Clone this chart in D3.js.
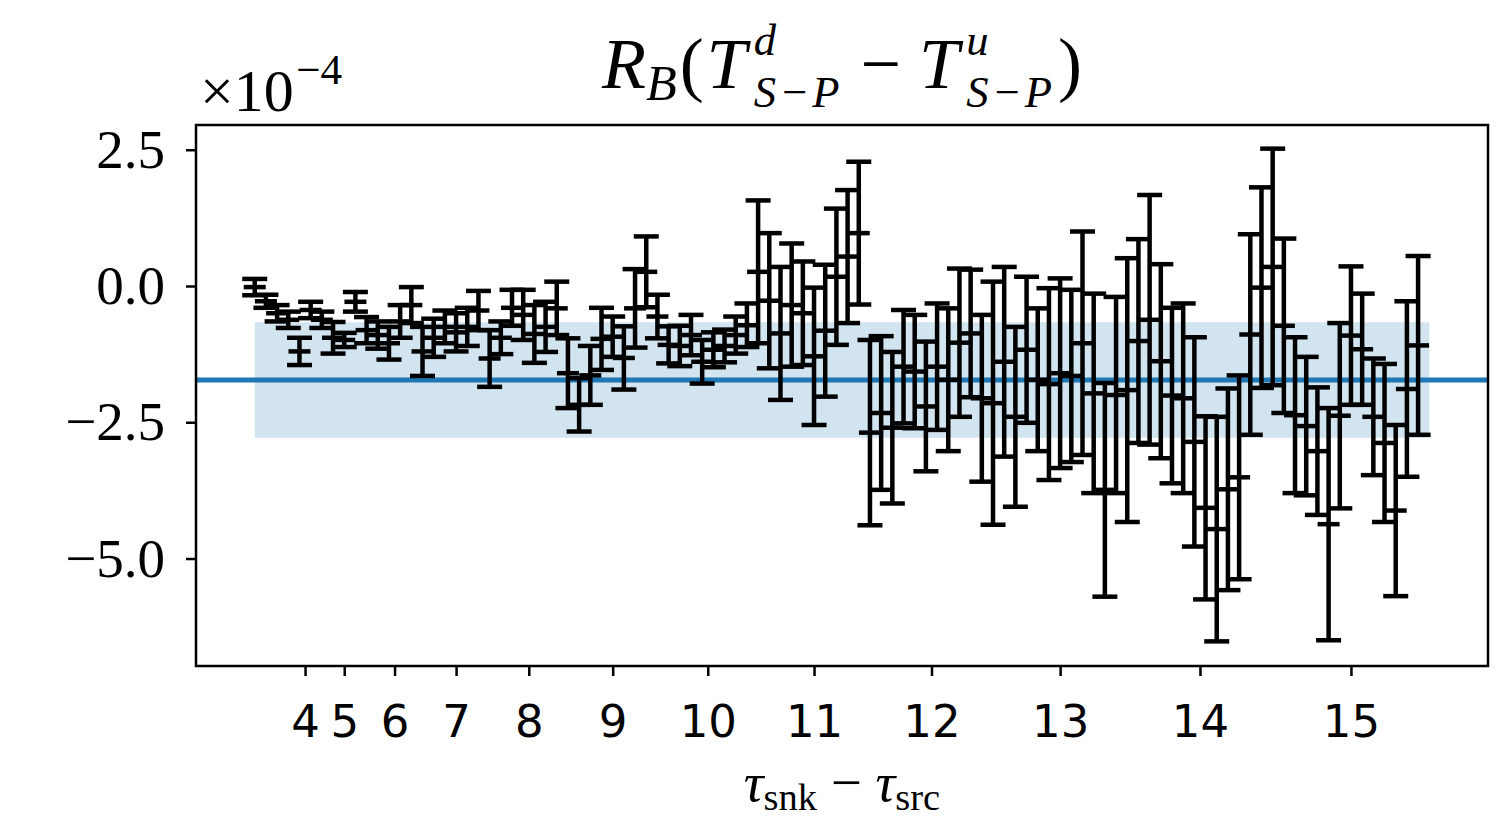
<!DOCTYPE html>
<html>
<head>
<meta charset="utf-8">
<script src="https://cdn.jsdelivr.net/npm/d3@7"></script>
<style>
  body { margin: 0; background: #fff; }
</style>
</head>
<body>
<svg id="ratio_svg"></svg>
<script>

// tau_snk - tau_src values, and how many insertion points each one has
var tauList   = [2, 3, 4, 5, 6, 7, 8, 9, 10, 11, 12, 13, 14, 15];
var groupSize = [1, 2, 3, 4, 5, 6, 7, 8, 9, 10, 11, 12, 13, 14];
var tickTaus  = [4, 5, 6, 7, 8, 9, 10, 11, 12, 13, 14, 15];
var yTicks    = [2.5, 0, -2.5, -5];

var ratio = [-0.02,-0.28,-0.50,-0.62,-1.20,-0.44,-0.62,-0.95,-0.99,-0.29,
  -0.81,-0.90,-1.05,-0.65,-0.35,-1.20,-0.95,-0.75,-0.85,-0.75,
  -0.45,-1.33,-0.95,-0.40,-0.53,-0.88,-0.75,-0.41,-1.60,-2.18,
  -1.64,-0.97,-0.93,-1.32,-0.41,0.26,-0.56,-1.08,-1.10,-0.90,
  -1.39,-1.17,-1.10,-0.90,-0.72,0.26,-0.27,-0.87,-0.35,-0.50,
  -1.29,-0.82,0.17,0.54,0.97,-2.69,-2.33,-2.60,-1.48,-1.57,
  -2.21,-1.48,-1.72,-1.04,-0.87,-2.06,-2.15,-1.39,-2.40,-1.17,
  -1.72,-1.80,-1.60,-1.65,-1.05,-1.97,-3.74,-2.00,-1.91,-1.01,
  -0.62,-1.38,-2.01,-2.06,-2.86,-4.07,-4.46,-3.73,-3.51,-0.89,
  -0.03,0.35,-0.73,-2.37,-2.57,-3.03,-4.37,-2.38,-0.91,-1.16,
  -2.40,-2.88,-4.12,-1.89,-1.09];
var ratioErr = [0.15,0.12,0.15,0.15,0.25,0.15,0.15,0.29,0.13,0.18,
  0.24,0.25,0.30,0.30,0.33,0.45,0.35,0.30,0.35,0.35,
  0.36,0.52,0.30,0.33,0.46,0.53,0.46,0.49,0.64,0.49,
  0.54,0.57,0.37,0.58,0.72,0.65,0.40,0.34,0.37,0.37,
  0.40,0.32,0.30,0.34,0.40,1.31,1.24,1.22,1.13,0.95,
  1.26,1.21,1.25,1.22,1.31,1.70,1.41,1.39,1.04,1.04,
  1.19,1.16,1.31,1.36,1.17,1.53,2.23,1.74,1.65,1.34,
  1.31,1.76,1.74,1.58,2.05,1.83,1.96,1.80,2.42,1.87,
  2.29,1.78,1.61,1.74,1.92,1.68,2.06,1.85,1.87,1.84,
  1.84,2.17,1.60,1.43,1.27,1.17,2.13,1.70,1.27,1.02,
  1.07,1.45,1.57,1.61,1.64];

// constant fit and its error
var fitValue = -1.725;
var fitErr = 1.06;

var svgW = 1512, svgH = 823;
var margin = {top: 125, right: 24, bottom: 157, left: 196},
    width = svgW - margin.left - margin.right,
    height = svgH - margin.top - margin.bottom;

var serif = "'Liberation Serif', 'DejaVu Serif', serif";
var sans = "'DejaVu Sans', sans-serif";

var points = ratio.map(function(v, i) {
  return {i: i, v: v, e: ratioErr[i]};
});

// tick position = start of the tau group + half its size
var groupStart = {};
var acc = 0;
tauList.forEach(function(t, k) {
  groupStart[t] = acc + groupSize[k] / 2;
  acc += groupSize[k];
});
var nPoints = acc;

var scaleX = d3.scaleLinear()
  .domain([-0.05 * nPoints, 1.05 * nPoints])
  .range([0, width]);
var scaleY = d3.scaleLinear()
  .domain([-6.972, 2.954])
  .range([height, 0]);

var svg = d3.select('#ratio_svg')
  .attr('width', svgW)
  .attr('height', svgH);

var plot = svg.append('g')
  .attr('transform', 'translate(' + margin.left + ',' + margin.top + ')');

// fit band
plot.append('rect')
  .attr('x', scaleX(0))
  .attr('width', scaleX(nPoints) - scaleX(0))
  .attr('y', scaleY(fitValue + fitErr))
  .attr('height', scaleY(fitValue - fitErr) - scaleY(fitValue + fitErr))
  .attr('fill', '#1f77b4')
  .attr('fill-opacity', 0.2);

plot.append('line')
  .attr('x1', 0)
  .attr('x2', width)
  .attr('y1', scaleY(fitValue))
  .attr('y2', scaleY(fitValue))
  .style('stroke', '#1f77b4')
  .style('stroke-width', 5);

// error bars: vertical line, two caps and a flat marker in the middle
var capW = 12.5, markW = 11;
var bars = plot.selectAll('.bar')
  .data(points)
  .enter().append('g')
  .attr('class', 'bar')
  .attr('transform', function(d) { return 'translate(' + scaleX(d.i) + ',0)'; })
  .style('stroke', '#000')
  .style('stroke-width', 4.5);

bars.append('line')
  .attr('y1', function(d) { return scaleY(d.v + d.e); })
  .attr('y2', function(d) { return scaleY(d.v - d.e); });
bars.append('line')
  .attr('x1', -capW).attr('x2', capW)
  .attr('y1', function(d) { return scaleY(d.v + d.e); })
  .attr('y2', function(d) { return scaleY(d.v + d.e); });
bars.append('line')
  .attr('x1', -capW).attr('x2', capW)
  .attr('y1', function(d) { return scaleY(d.v - d.e); })
  .attr('y2', function(d) { return scaleY(d.v - d.e); });
bars.append('line')
  .attr('x1', -markW).attr('x2', markW)
  .attr('y1', function(d) { return scaleY(d.v); })
  .attr('y2', function(d) { return scaleY(d.v); });

// axes
var yAxis = d3.axisLeft(scaleY)
  .tickValues(yTicks)
  .tickSize(10)
  .tickPadding(21)
  .tickFormat(function(d) { return d3.format('.1f')(d).replace('-', '\u2212'); });
var gy = plot.append('g').call(yAxis);

var xAxis = d3.axisBottom(scaleX)
  .tickValues(tickTaus.map(function(t) { return groupStart[t]; }))
  .tickSize(10)
  .tickPadding(29)
  .tickFormat(function(d, k) { return tickTaus[k]; });
var gx = plot.append('g')
  .attr('transform', 'translate(0,' + height + ')')
  .call(xAxis);

gy.select('.domain').remove();
gx.select('.domain').remove();
gy.selectAll('line').style('stroke-width', 2.5);
gx.selectAll('line').style('stroke-width', 2.5);
gy.selectAll('text')
  .attr('font-family', serif)
  .attr('font-size', 55)
  .attr('fill', '#000');
gx.selectAll('text')
  .attr('font-family', sans)
  .attr('font-size', 45)
  .attr('fill', '#000');

plot.append('rect')
  .attr('width', width)
  .attr('height', height)
  .attr('fill', 'none')
  .style('stroke', '#000')
  .style('stroke-width', 2.5);

// little helper for math-like text: pieces placed one after another
function mathText(parent, parts, size, x, y, anchor) {
  var g = parent.append('g')
    .attr('font-family', serif)
    .attr('fill', '#000');
  var cx = 0, hold = null;
  parts.forEach(function(p) {
    cx += (p.gap || 0) * size;
    var t = g.append('text')
      .attr('x', cx)
      .attr('y', (p.dy || 0) * size)
      .attr('font-size', size * (p.s || 1))
      .attr('font-style', p.it ? 'italic' : 'normal')
      .attr('letter-spacing', p.ls || 0)
      .style('white-space', 'pre')
      .text(p.t);
    var w = t.node().getComputedTextLength();
    if (p.stack) {
      hold = w;
    } else {
      cx += hold !== null ? Math.max(w, hold) : w;
      hold = null;
    }
  });
  var off = anchor === 'middle' ? -cx / 2 : 0;
  g.attr('transform', 'translate(' + (x + off) + ',' + y + ')');
  return g;
}

var cx = margin.left + width / 2;

mathText(svg, [
  {t: 'R', it: true},
  {t: 'B', it: true, s: 0.7, dy: 0.17},
  {t: '(', gap: 0.04},
  {t: 'T', it: true, gap: 0.04},
  {t: 'd', it: true, s: 0.62, dy: -0.46, stack: true, gap: 0.1},
  {t: 'S\u2212P', it: true, s: 0.62, dy: 0.27, ls: 3},
  {t: '\u2212', gap: 0.25},
  {t: 'T', it: true, gap: 0.25},
  {t: 'u', it: true, s: 0.62, dy: -0.46, stack: true, gap: 0.1},
  {t: 'S\u2212P', it: true, s: 0.62, dy: 0.27, ls: 3},
  {t: ')', gap: 0.04}
], 72, cx, 88, 'middle');

// offset text of the y axis
mathText(svg, [
  {t: '\u00d710'},
  {t: '\u22124', s: 0.72, dy: -0.45, gap: 0.04}
], 60, 200, 111, 'start');

// x label
mathText(svg, [
  {t: '\u03c4', it: true},
  {t: 'snk', s: 0.7, dy: 0.16},
  {t: '\u2212', gap: 0.25},
  {t: '\u03c4', it: true, gap: 0.25},
  {t: 'src', s: 0.7, dy: 0.16}
], 55, cx, 801, 'middle');

</script>
</body>
</html>
